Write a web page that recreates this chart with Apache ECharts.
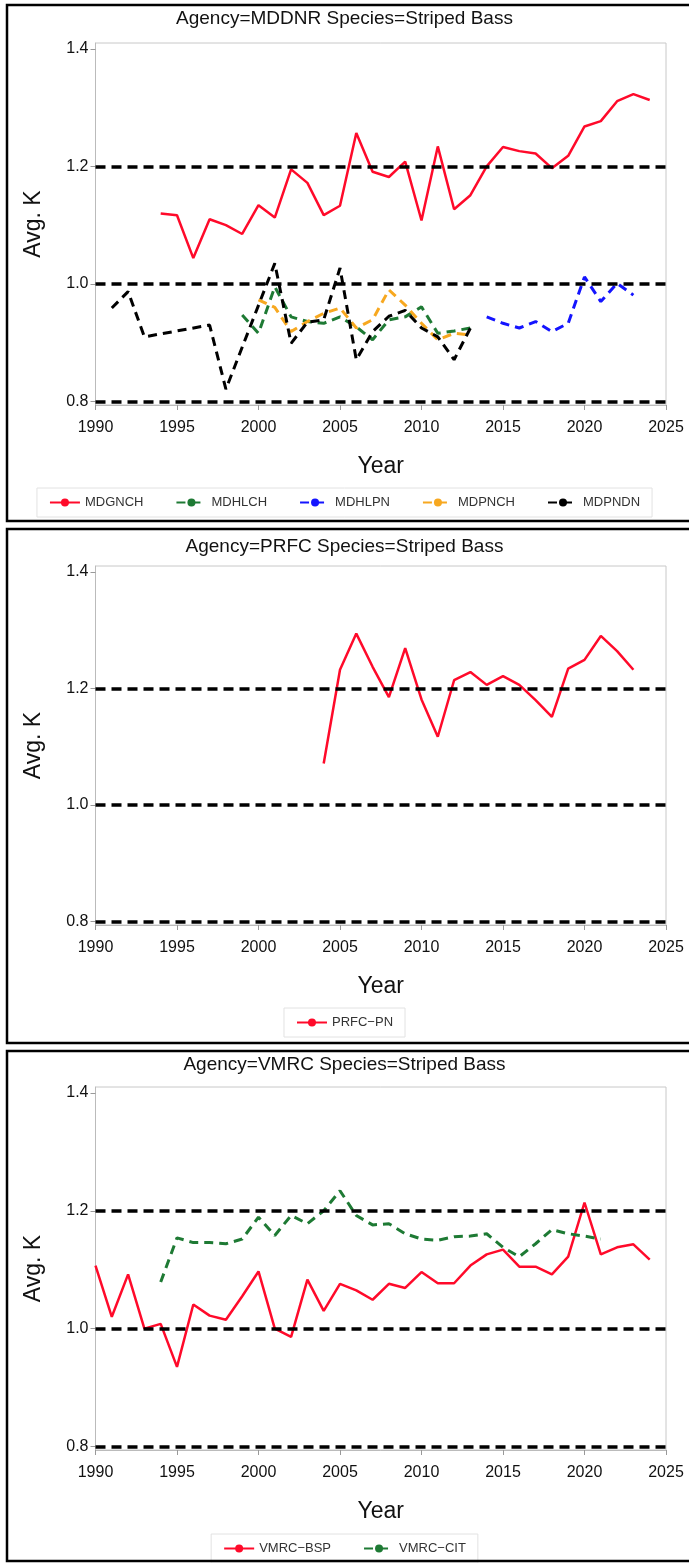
<!DOCTYPE html>
<html><head><meta charset="utf-8">
<script src="https://cdn.jsdelivr.net/npm/echarts@6/dist/echarts.min.js"></script>
<style>html,body{margin:0;padding:0;background:#fff}#c{width:689px;height:1563px}</style>
</head><body><div id="c"></div>
<script>
// ---- data ----
const titles = ['Agency=MDDNR Species=Striped Bass', 'Agency=PRFC Species=Striped Bass', 'Agency=VMRC Species=Striped Bass'];
const xTicks = [1990, 1995, 2000, 2005, 2010, 2015, 2020, 2025];
const yTicks = [0.8, 1.0, 1.2, 1.4];
const refLevels = [0.8, 1.0, 1.2];

const MDGNCH_years = [1994,1995,1996,1997,1998,1999,2000,2001,2002,2003,2004,2005,2006,2007,2008,2009,2010,2011,2012,2013,2014,2015,2016,2017,2018,2019,2020,2021,2022,2023,2024];
const MDGNCH = [1.120,1.117,1.044,1.110,1.100,1.085,1.134,1.113,1.195,1.172,1.117,1.133,1.257,1.191,1.182,1.208,1.108,1.234,1.127,1.151,1.200,1.233,1.226,1.222,1.197,1.218,1.268,1.277,1.311,1.323,1.313];
const MDHLCH_years = [1999,2000,2001,2002,2003,2004,2005,2006,2007,2008,2009,2010,2011,2012,2013];
const MDHLCH = [0.947,0.916,0.995,0.944,0.936,0.933,0.944,0.927,0.905,0.939,0.944,0.961,0.916,0.920,0.925];
const MDHLPN_years = [2014,2015,2016,2017,2018,2019,2020,2021,2022,2023];
const MDHLPN = [0.944,0.933,0.925,0.936,0.919,0.933,1.012,0.970,1.001,0.981];
const MDPNCH_years = [2000,2001,2002,2003,2004,2005,2006,2007,2008,2009,2010,2011,2012,2013];
const MDPNCH = [0.973,0.960,0.919,0.936,0.950,0.959,0.925,0.939,0.990,0.964,0.933,0.905,0.916,0.913];
const MDPNDN_years = [1991,1992,1993,1997,1998,2001,2002,2003,2004,2005,2006,2007,2008,2009,2010,2011,2012,2013];
const MDPNDN = [0.959,0.987,0.910,0.930,0.821,1.035,0.899,0.935,0.939,1.027,0.871,0.919,0.945,0.955,0.925,0.910,0.871,0.925];

const PRFC_PN_years = [2004,2005,2006,2007,2008,2009,2010,2011,2012,2013,2014,2015,2016,2017,2018,2019,2020,2021,2022,2023];
const PRFC_PN = [1.071,1.232,1.294,1.237,1.185,1.269,1.181,1.117,1.214,1.228,1.206,1.221,1.206,1.180,1.151,1.234,1.249,1.290,1.264,1.232];

const VMRC_BSP_years = [1990,1991,1992,1993,1994,1995,1996,1997,1998,1999,2000,2001,2002,2003,2004,2005,2006,2007,2008,2009,2010,2011,2012,2013,2014,2015,2016,2017,2018,2019,2020,2021,2022,2023,2024];
const VMRC_BSP = [1.107,1.020,1.092,1.000,1.008,0.935,1.041,1.022,1.015,1.055,1.097,1.000,0.986,1.083,1.030,1.076,1.065,1.049,1.076,1.069,1.096,1.077,1.077,1.107,1.126,1.134,1.105,1.105,1.092,1.122,1.214,1.126,1.138,1.143,1.117];
const VMRC_CIT_years = [1994,1995,1996,1997,1998,1999,2000,2001,2002,2003,2004,2005,2006,2007,2008,2009,2010,2011,2012,2013,2014,2015,2016,2017,2018,2019,2020,2021];
const VMRC_CIT = [1.079,1.154,1.146,1.146,1.144,1.152,1.189,1.158,1.192,1.178,1.200,1.234,1.192,1.176,1.178,1.161,1.152,1.150,1.156,1.157,1.161,1.138,1.122,1.144,1.168,1.161,1.157,1.152];

// ---- build ----
const zip = (xs, ys) => xs.map((x, i) => [x, ys[i]]);
const FONT = '"Liberation Sans", Arial, sans-serif';
const RED = '#ff0a2a', GREEN = '#1e7a34', BLUE = '#1414ff', ORANGE = '#f7a820', BLACK = '#000000';

const grids = [
  {left: 95.5, top: 43, width: 570.5, height: 362},
  {left: 95.5, top: 566, width: 570.5, height: 359},
  {left: 95.5, top: 1087, width: 570.5, height: 363}
].map(g => Object.assign(g, {show: true, borderColor: '#c8c8c8', borderWidth: 1, backgroundColor: '#fff'}));

const xAxes = [0,1,2].map(i => ({
  gridIndex: i, type: 'value', min: 1990, max: 2025, interval: 5,
  name: 'Year', nameLocation: 'middle', nameGap: 50,
  nameTextStyle: {fontFamily: FONT, fontSize: 23, color: '#111'},
  axisLine: {show: true, lineStyle: {color: '#bbb'}},
  axisTick: {show: true, length: 5, lineStyle: {color: '#999'}},
  axisLabel: {fontFamily: FONT, fontSize: 16, color: '#111', margin: 15, formatter: v => String(v)},
  splitLine: {show: false}
}));
const yAxes = [0,1,2].map(i => ({
  gridIndex: i, type: 'value', min: 0.794, max: 1.41,
  name: 'Avg. K', nameLocation: 'middle', nameGap: 50,
  nameTextStyle: {fontFamily: FONT, fontSize: 23, color: '#111'},
  axisLine: {show: true, lineStyle: {color: '#bbb'}},
  axisTick: {show: true, length: 5, lineStyle: {color: '#999'}, customValues: yTicks},
  axisLabel: {fontFamily: FONT, fontSize: 16, color: '#111', margin: 7, customValues: yTicks, formatter: v => v.toFixed(1)},
  splitLine: {show: false}
}));

const refLine = {
  silent: true, symbol: 'none', label: {show: false}, animation: false,
  lineStyle: {color: '#000', width: 3.5, type: [10, 6]},
  emphasis: {disabled: true},
  data: refLevels.map(v => ({yAxis: v}))
};

function ser(name, xs, ys, gi, color, dashed, withRef) {
  const s = {
    name, type: 'line', xAxisIndex: gi, yAxisIndex: gi,
    data: zip(xs, ys), symbol: 'circle', symbolSize: 5, showSymbol: false,
    itemStyle: {color},
    lineStyle: {color, width: dashed ? 3 : 2.5, type: dashed ? [9, 6] : 'solid'},
    emphasis: {disabled: true}, z: 3
  };
  if (withRef) s.markLine = refLine;
  return s;
}

const series = [
  ser('MDGNCH', MDGNCH_years, MDGNCH, 0, RED, false, true),
  ser('MDHLCH', MDHLCH_years, MDHLCH, 0, GREEN, true),
  ser('MDHLPN', MDHLPN_years, MDHLPN, 0, BLUE, true),
  ser('MDPNCH', MDPNCH_years, MDPNCH, 0, ORANGE, true),
  ser('MDPNDN', MDPNDN_years, MDPNDN, 0, BLACK, true),
  ser('PRFC\u2212PN', PRFC_PN_years, PRFC_PN, 1, RED, false, true),
  ser('VMRC\u2212BSP', VMRC_BSP_years, VMRC_BSP, 2, RED, false, true),
  ser('VMRC\u2212CIT', VMRC_CIT_years, VMRC_CIT, 2, GREEN, true)
];

const legendBase = {
  left: 'center', orient: 'horizontal', itemWidth: 30, itemHeight: 10, itemGap: 32,
  padding: [8, 12], borderColor: '#e2e2e2', borderWidth: 1,
  textStyle: {fontFamily: FONT, fontSize: 13, color: '#333'}, selectedMode: false
};
const legends = [
  Object.assign({}, legendBase, {top: 488, data: ['MDGNCH','MDHLCH','MDHLPN','MDPNCH','MDPNDN']}),
  Object.assign({}, legendBase, {top: 1008, data: ['PRFC\u2212PN']}),
  Object.assign({}, legendBase, {top: 1534, data: ['VMRC\u2212BSP','VMRC\u2212CIT']})
];

const titleTops = [9, 537, 1055];
const title = titles.map((t, i) => ({
  text: t, left: 'center', top: titleTops[i], padding: [0, 0, 0, 14],
  textStyle: {fontFamily: FONT, fontSize: 19, fontWeight: 'normal', color: '#111'}
}));

const panels = [[5, 521], [529, 1043], [1051, 1561]];
const graphic = panels.map(p => ({
  type: 'rect', silent: true, z: 100,
  shape: {x: 7, y: p[0], width: 700, height: p[1] - p[0]},
  style: {fill: 'none', stroke: '#000', lineWidth: 2.5}
}));

const chart = echarts.init(document.getElementById('c'), null, {renderer: 'canvas'});
chart.setOption({
  animation: false, backgroundColor: '#fff',
  title, grid: grids, xAxis: xAxes, yAxis: yAxes, legend: legends, series, graphic
});
</script></body></html>
